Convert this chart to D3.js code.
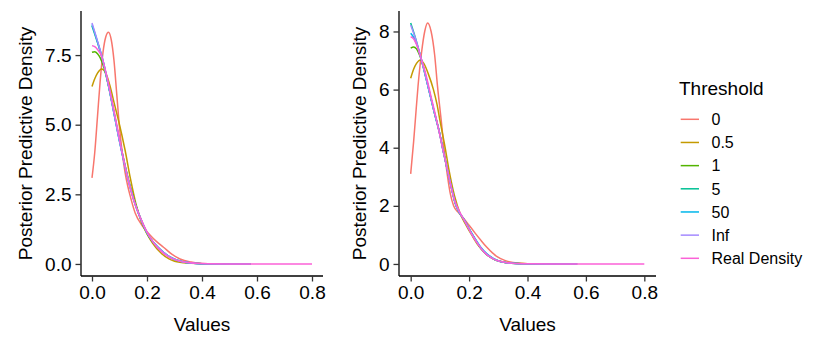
<!DOCTYPE html>
<html><head><meta charset="utf-8">
<script src="https://cdn.jsdelivr.net/npm/d3@7/dist/d3.min.js"></script>
<style>body{margin:0;background:#fff}svg{display:block}text{font-family:"Liberation Sans",Arial,sans-serif;fill:#000}</style>
</head><body><svg id="c" width="814" height="349"></svg>
<script>
// ---------- data ----------
const thresholds = ["0","0.5","1","5","50","Inf","Real Density"];
const colors = ["#F8766D","#C49A00","#53B400","#00C094","#00B6EB","#A58AFF","#FB61D7"];
const xTicks = [0,0.2,0.4,0.6,0.8];
const leftYTicks = [0,2.5,5,7.5];
const leftYTickLabels = ["0.0","2.5","5.0","7.5"];
const rightYTicks = [0,2,4,6,8];
const rightYTickLabels = ["0","2","4","6","8"];
const xTickLabels = ["0.0","0.2","0.4","0.6","0.8"];

// Left panel
const left_t0 = [[0,3.09],[0.01,4.0],[0.02,5.3],[0.03,6.6],[0.04,7.6],[0.05,8.15],[0.06,8.32],[0.07,8.05],[0.08,7.3],[0.09,6.1],[0.1,4.9],[0.11,4.0],[0.12,3.3],[0.13,2.8],[0.14,2.4],[0.157,1.83],[0.185,1.34],[0.21,1.05],[0.235,0.8],[0.26,0.6],[0.29,0.35],[0.32,0.18],[0.36,0.07],[0.4,0.02],[0.5,0.002],[0.577,0]];
const left_t05 = [[0,6.37],[0.01,6.65],[0.02,6.85],[0.035,7.0],[0.05,6.85],[0.066,6.37],[0.08,5.8],[0.096,5.17],[0.12,4.1],[0.14,3.05],[0.16,2.15],[0.18,1.5],[0.2,1.08],[0.22,0.75],[0.25,0.4],[0.28,0.18],[0.3,0.1],[0.35,0.03],[0.4,0.01],[0.5,0.001],[0.577,0]];
const left_t1 = [[0,7.6],[0.01,7.62],[0.02,7.55],[0.03,7.4],[0.045,7.0],[0.06,6.4],[0.08,5.45],[0.1,4.45],[0.12,3.55],[0.14,2.75],[0.16,2.1],[0.18,1.55],[0.2,1.1],[0.22,0.8],[0.24,0.57],[0.26,0.4],[0.28,0.26],[0.3,0.16],[0.33,0.07],[0.36,0.03],[0.4,0.01],[0.5,0.001],[0.577,0]];
const left_t5 = [[0,8.55],[0.02,7.95],[0.04,7.28],[0.06,6.4],[0.08,5.42],[0.1,4.42],[0.12,3.52],[0.14,2.72],[0.16,2.06],[0.18,1.55],[0.2,1.12],[0.22,0.82],[0.24,0.6],[0.26,0.42],[0.28,0.27],[0.3,0.17],[0.33,0.08],[0.36,0.035],[0.4,0.01],[0.5,0.001],[0.577,0]];
const left_t50 = [[0,8.6],[0.02,7.98],[0.04,7.3],[0.06,6.4],[0.08,5.41],[0.1,4.41],[0.12,3.5],[0.14,2.7],[0.16,2.05],[0.18,1.55],[0.2,1.12],[0.22,0.82],[0.24,0.6],[0.26,0.42],[0.28,0.27],[0.3,0.17],[0.33,0.08],[0.36,0.035],[0.4,0.01],[0.5,0.001],[0.577,0]];
const left_tInf = [[0,8.65],[0.02,8.0],[0.04,7.3],[0.06,6.4],[0.08,5.4],[0.1,4.4],[0.12,3.5],[0.14,2.7],[0.16,2.05],[0.18,1.55],[0.2,1.12],[0.22,0.82],[0.24,0.6],[0.26,0.42],[0.28,0.27],[0.3,0.17],[0.33,0.08],[0.36,0.035],[0.4,0.01],[0.5,0.001],[0.577,0]];
const left_real = [[0,7.84],[0.01,7.8],[0.02,7.7],[0.035,7.45],[0.05,6.9],[0.07,6.0],[0.09,5.0],[0.11,4.0],[0.13,3.1],[0.15,2.35],[0.17,1.8],[0.19,1.35],[0.21,0.97],[0.23,0.68],[0.25,0.47],[0.27,0.31],[0.29,0.2],[0.32,0.1],[0.35,0.05],[0.4,0.015],[0.5,0.002],[0.6,0],[0.7,0],[0.8,0]];

// Right panel
const right_t0 = [[0,3.1],[0.01,4.2],[0.016,4.96],[0.025,6.1],[0.037,7.26],[0.048,8.0],[0.058,8.29],[0.07,8.0],[0.082,7.2],[0.092,6.1],[0.105,4.9],[0.115,3.9],[0.125,3.1],[0.136,2.4],[0.147,2.0],[0.165,1.75],[0.181,1.57],[0.2,1.33],[0.22,1.07],[0.239,0.83],[0.26,0.58],[0.28,0.38],[0.296,0.25],[0.32,0.13],[0.35,0.05],[0.4,0.01],[0.5,0.001],[0.57,0]];
const right_t05 = [[0,6.39],[0.01,6.7],[0.02,6.9],[0.033,7.02],[0.045,6.9],[0.06,6.55],[0.078,6.0],[0.09,5.5],[0.1,4.95],[0.118,4.0],[0.13,3.3],[0.15,2.35],[0.17,1.72],[0.19,1.33],[0.21,0.98],[0.23,0.66],[0.25,0.42],[0.27,0.25],[0.3,0.1],[0.35,0.03],[0.4,0.01],[0.5,0.001],[0.57,0]];
const right_t1 = [[0,7.43],[0.01,7.47],[0.02,7.4],[0.03,7.2],[0.04,6.9],[0.062,6.02],[0.08,5.26],[0.1,4.46],[0.11,3.96],[0.12,3.5],[0.14,2.6],[0.153,2.08],[0.165,1.8],[0.181,1.55],[0.2,1.2],[0.22,0.86],[0.24,0.55],[0.26,0.33],[0.28,0.19],[0.3,0.1],[0.33,0.04],[0.36,0.015],[0.4,0.005],[0.5,0.001],[0.57,0]];
const right_t5 = [[0,8.29],[0.02,7.65],[0.04,6.9],[0.062,6.0],[0.08,5.25],[0.1,4.45],[0.11,3.95],[0.12,3.5],[0.14,2.6],[0.153,2.08],[0.165,1.8],[0.181,1.55],[0.2,1.2],[0.22,0.86],[0.24,0.55],[0.26,0.33],[0.28,0.19],[0.3,0.1],[0.33,0.04],[0.36,0.015],[0.4,0.005],[0.5,0.001],[0.57,0]];
const right_t50 = [[0,7.94],[0.01,7.8],[0.02,7.58],[0.04,6.92],[0.062,6.0],[0.08,5.25],[0.1,4.45],[0.11,3.95],[0.12,3.5],[0.14,2.6],[0.153,2.08],[0.165,1.8],[0.181,1.56],[0.2,1.22],[0.22,0.88],[0.24,0.58],[0.26,0.36],[0.28,0.21],[0.3,0.11],[0.33,0.045],[0.36,0.017],[0.4,0.006],[0.5,0.001],[0.57,0]];
const right_tInf = [[0,8.22],[0.02,7.64],[0.04,6.9],[0.062,6.0],[0.08,5.25],[0.1,4.45],[0.11,3.95],[0.12,3.5],[0.14,2.6],[0.153,2.08],[0.165,1.8],[0.181,1.55],[0.2,1.2],[0.22,0.86],[0.24,0.56],[0.26,0.34],[0.28,0.2],[0.3,0.1],[0.33,0.04],[0.36,0.015],[0.4,0.005],[0.5,0.001],[0.57,0]];
const right_real = [[0,7.82],[0.01,7.75],[0.02,7.55],[0.035,7.1],[0.05,6.6],[0.07,5.75],[0.09,4.9],[0.11,3.95],[0.13,3.05],[0.15,2.2],[0.17,1.75],[0.19,1.38],[0.21,1.0],[0.23,0.68],[0.25,0.42],[0.27,0.25],[0.29,0.14],[0.32,0.06],[0.35,0.025],[0.4,0.008],[0.5,0.001],[0.6,0],[0.7,0],[0.8,0]];

const leftSeries = [left_t0,left_t05,left_t1,left_t5,left_t50,left_tInf,left_real];
const rightSeries = [right_t0,right_t05,right_t1,right_t5,right_t50,right_tInf,right_real];

// ---------- drawing ----------
const svg = d3.select("#c");
const font = "Liberation Sans, Arial, sans-serif";

function panel(cfg){
  const {x0,x1,y0,y1,series,yTicks,yLabels,yMax} = cfg;
  const x = d3.scaleLinear().domain([-0.04,0.84]).range([x0,x1]);
  const y = d3.scaleLinear().domain([-0.05*yMax,1.05*yMax]).range([y1,y0]);
  const g = svg.append("g");
  const line = d3.line().x(d=>x(d[0])).y(d=>y(d[1])).curve(d3.curveMonotoneX);
  series.forEach((s,i)=>{
    g.append("path").attr("d",line(s)).attr("fill","none")
      .attr("stroke",colors[i]).attr("stroke-width",1.5);
  });
  const xa = g.append("g").attr("transform",`translate(0,${y1})`)
    .call(d3.axisBottom(x).tickValues(xTicks).tickFormat((d,i)=>xTickLabels[i]).tickSize(5.5).tickPadding(4));
  const ya = g.append("g").attr("transform",`translate(${x0},0)`)
    .call(d3.axisLeft(y).tickValues(yTicks).tickFormat((d,i)=>yLabels[i]).tickSize(5.5).tickPadding(4));
  [xa,ya].forEach(a=>{
    a.select(".domain").attr("stroke","#000").attr("stroke-width",1.3).attr("d",
      a===xa ? `M${x0},0H${x1}` : `M0,${y0}V${y1}`);
    a.selectAll(".tick line").attr("stroke","#333").attr("stroke-width",1.3);
    a.selectAll("text").attr("font-size",19).attr("font-family",font).attr("fill","#000");
  });
  g.append("text").attr("x",(x0+x1)/2).attr("y",331).attr("text-anchor","middle")
    .attr("font-size",19).text("Values");
  g.append("text").attr("transform",`translate(${cfg.ytx},${(y0+y1)/2}) rotate(-90)`)
    .attr("text-anchor","middle").attr("font-size",19).text("Posterior Predictive Density");
}

panel({x0:81,x1:323,y0:11,y1:276,series:leftSeries,yTicks:leftYTicks,yLabels:leftYTickLabels,yMax:8.65,ytx:32});
panel({x0:399,x1:656,y0:11,y1:276,series:rightSeries,yTicks:rightYTicks,yLabels:rightYTickLabels,yMax:8.29,ytx:365.5});

// legend
const lg = svg.append("g");
lg.append("text").attr("x",679).attr("y",95).attr("font-size",19).text("Threshold");
const ly = d3.scalePoint().domain(thresholds).range([119.3,258.3]);
thresholds.forEach((t,i)=>{
  lg.append("line").attr("x1",680.7).attr("x2",699).attr("y1",ly(t)).attr("y2",ly(t))
    .attr("stroke",colors[i]).attr("stroke-width",1.5);
  lg.append("text").attr("x",711.5).attr("y",ly(t)).attr("dy","0.36em").attr("font-size",16).text(t);
});
</script></body></html>
